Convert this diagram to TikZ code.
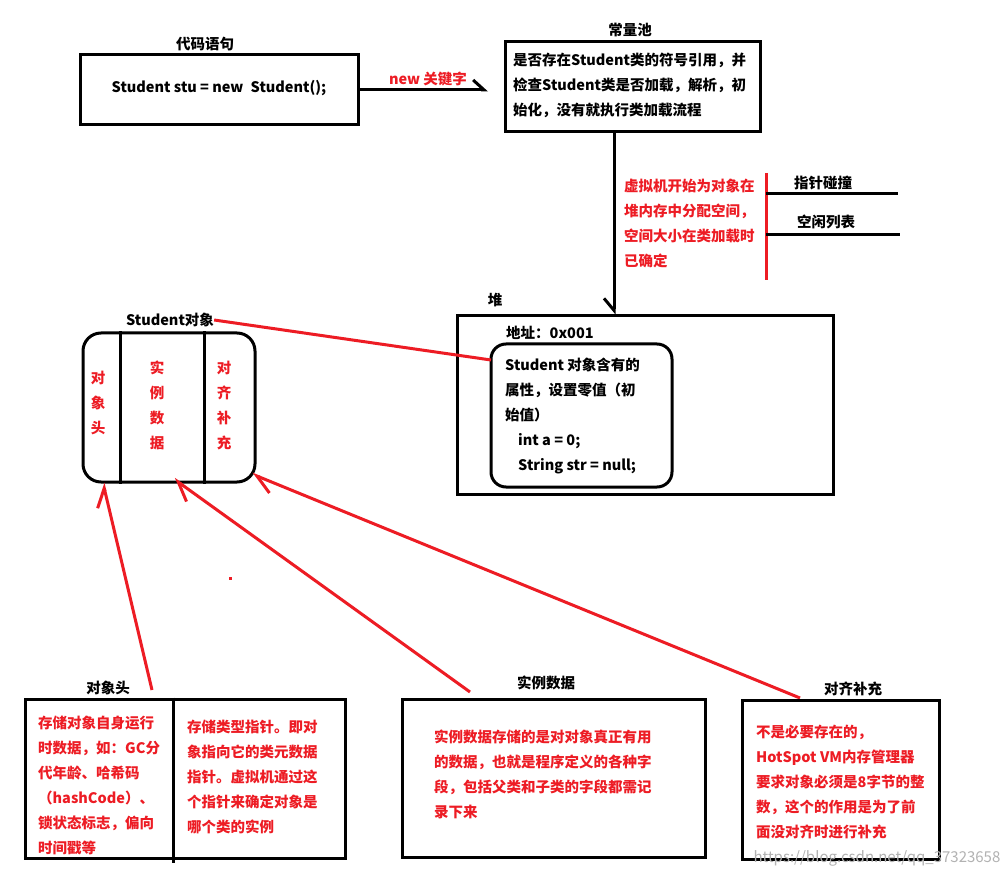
\documentclass[tikz,border=0pt]{standalone}
\usepackage{fontspec}
\setmainfont{Noto Sans CJK SC}
\usetikzlibrary{arrows.meta}
\definecolor{pred}{RGB}{237,28,36}
\newcommand\zw{\fontsize{14.5}{25}\selectfont\bfseries}

\tikzset{
  box/.style={draw, line width=3pt, inner sep=0pt},
  lbl/.style={inner sep=0pt, font=\zw},
  txt/.style={inner sep=0pt, anchor=west, align=left, font=\zw},
  rtxt/.style={txt, text=pred},
  vtxt/.style={inner sep=0pt, align=center, font=\zw, text=pred},
  blk/.style={line width=3pt},
  redl/.style={line width=3pt, pred},
  bhook/.style={-{Straight Barb[harpoon, length=11pt, width=20pt]}},
  bhooksw/.style={-{Straight Barb[harpoon, swap, length=12pt, width=20pt]}},
  rhook/.style={-{Straight Barb[harpoon, length=18pt, width=22pt]}},
}

\begin{document}
\begin{tikzpicture}[x=1pt,y=-1pt]
    \fill[white] (0,0) rectangle (1007,877);
    \useasboundingbox (0,0) rectangle (1007,877);

    % code statement
    \node[lbl] (codet) at (205,44) {代码语句};
    \node[box, minimum width=278, minimum height=70] (code) at (219,90) {};
    \node[lbl] (codes) at (219,88) {Student stu = new\enspace Student();};
    \node[lbl, text=pred] (newk) at (428,79) {new 关键字};
    \coordinate (codeend) at (488,90);
    \draw[blk, bhook] (code.east) -- (codeend);

    % constant pool
    \node[lbl] (poolt) at (630,30) {常量池};
    \node[box, minimum width=255, minimum height=90] (pool) at (632.5,87) {};
    \node[txt] (pools) at (513,85) {是否存在Student类的符号引用，并\\检查Student类是否加载，解析，初\\始化，没有就执行类加载流程};

    % allocation
    \coordinate (vx) at (614,0);
    \node[rtxt] (alloc) at (624,223) {虚拟机开始为对象在\\堆内存中分配空间，\\空间大小在类加载时\\已确定};
    \coordinate (br1) at (766,173);
    \coordinate (br2) at (766,280);
    \draw[redl] (br1) -- (br2);
    \coordinate (way1) at (898,194);
    \coordinate (way2) at (900,235);
    \draw[blk] (br1 |- way1) -- (way1);
    \draw[blk] (br1 |- way2) -- (way2);
    \node[lbl] (bump) at (823,183) {指针碰撞};
    \node[lbl] (free) at (826,222) {空闲列表};

    % heap
    \node[lbl] (heapt) at (495,300) {堆};
    \node[box, minimum width=376, minimum height=178] (heap) at (645,405) {};
    \draw[blk, bhooksw] (pool.south -| vx) -- (heap.north -| vx);
    \node[txt] (addr) at (506,333) {地址：0x001};
    \node[box, rounded corners=15pt, minimum width=181, minimum height=143] (obj) at (581.5,415.5) {};
    \node[txt] (objs) at (505,416) {Student 对象含有的\\属性，设置零值（初\\始值）\\\hspace*{13pt}int a = 0;\\\hspace*{13pt}String str = null;};

    % student object layout
    \node[lbl] (stut) at (170,320) {Student对象};
    \node[box, rounded corners=18pt, minimum width=172, minimum height=149] (stu) at (169,407.5) {};
    \coordinate (d1) at (120,0);
    \coordinate (d2) at (204,0);
    \draw[blk] (stu.north -| d1) -- (stu.south -| d1);
    \draw[blk] (stu.north -| d2) -- (stu.south -| d2);
    \node[vtxt] (vh) at (98,403) {对\\象\\头};
    \node[vtxt] (vi) at (157,405.5) {实\\例\\数\\据};
    \node[vtxt] (vp) at (224,405.5) {对\\齐\\补\\充};
    \coordinate (objin) at (491,360);
    \draw[redl] (stut.east) -- (objin);

    % arrows to the parts
    \coordinate (tiph) at (103,483);
    \coordinate (tipi) at (174,479);
    \coordinate (tipp) at (252,474);
    \coordinate (fromh) at (152,690);
    \coordinate (fromi) at (470,692);
    \coordinate (fromp) at (800,698);
    \draw[redl, rhook] (fromh) -- (tiph);
    \draw[redl, rhook] (fromi) -- (tipi);
    \draw[redl, rhook] (fromp) -- (tipp);
    \fill[pred] (228.5,576.5) rectangle (231.5,579.5);

    % object header
    \node[lbl] (hdrt) at (108,688) {对象头};
    \node[box, minimum width=320, minimum height=159] (hdr) at (185,778.5) {};
    \coordinate (d3) at (173,0);
    \draw[blk] (hdr.north -| d3) -- ([yshift=-3pt]hdr.south -| d3);
    \node[rtxt] (hdrl) at (38,785) {存储对象自身运行\\时数据，如：GC分\\代年龄、哈希码\\（hashCode）、\\锁状态标志，偏向\\时间戳等};
    \node[rtxt] (hdrr) at (187,777) {存储类型指针。即对\\象指向它的类元数据\\指针。虚拟机通过这\\个指针来确定对象是\\哪个类的实例};

    % instance data
    \node[lbl] (inst) at (546,683) {实例数据};
    \node[box, minimum width=303, minimum height=158] (instb) at (553.5,778) {};
    \node[rtxt] (insts) at (434,774.5) {实例数据存储的是对对象真正有用\\的数据，也就是程序定义的各种字\\段，包括父类和子类的字段都需记\\录下来};

    % padding
    \node[lbl] (padt) at (853,689) {对齐补充};
    \node[box, minimum width=197, minimum height=159] (padb) at (840.5,779.5) {};
    \node[rtxt] (pads) at (756,782) {不是必要存在的，\\HotSpot VM内存管理器\\要求对象必须是8字节的整\\数，这个的作用是为了前\\面没对齐时进行补充};

    \node[inner sep=0pt, text=black!30, font=\fontsize{15}{18}\selectfont] (wm) at (877,858) {https://blog.csdn.net/qq\_37323658};
\end{tikzpicture}
\end{document}
